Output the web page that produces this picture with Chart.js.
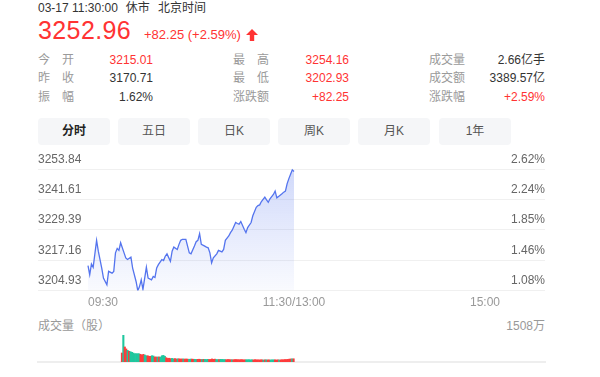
<!DOCTYPE html>
<html>
<head>
<meta charset="utf-8">
<script src="https://cdn.jsdelivr.net/npm/chart.js@4.4.1/dist/chart.umd.min.js"></script>
<style>
body{margin:0;width:600px;height:377px;overflow:hidden;background:#fff;position:relative;
  font-family:Arial,"Liberation Sans","Noto Sans CJK SC",sans-serif;color:#333}
.a{position:absolute;white-space:nowrap}
.lbl{position:absolute;width:36px;height:18px;line-height:18px;font-size:12px;color:#9a9a9a;
  text-align:justify;text-align-last:justify}
.val{position:absolute;height:18px;line-height:18px;font-size:12px;text-align:right;width:90px}
.red{color:#f33}
.tab{position:absolute;top:118px;width:72px;height:27px;line-height:27px;border-radius:4px;
  background:#f5f6f8;text-align:center;font-size:12px;color:#555}
</style>
</head>
<body>
<div class="a" style="left:38px;top:0;line-height:17px;font-size:12px;color:#333">03-17 11:30:00<span style="margin-left:8px">休市</span><span style="margin-left:8px">北京时间</span></div>
<div class="a red" style="left:38px;top:18px;height:25px;line-height:25px;font-size:25px;letter-spacing:0.4px">3252.96</div>
<div class="a red" style="left:144px;top:28px;height:13px;line-height:13px;font-size:13px">+82.25 (+2.59%)</div>
<svg class="a" style="left:246px;top:29px" width="12" height="12" viewBox="0 0 12 12"><path d="M6 0 L12 6 L8.2 6 L8.2 12 L3.8 12 L3.8 6 L0 6 Z" fill="#f33"/></svg>

<div class="lbl" style="left:38px;top:51px">今开</div>
<div class="val red" style="left:63px;top:51px">3215.01</div>
<div class="lbl" style="left:38px;top:69px">昨收</div>
<div class="val" style="left:63px;top:69px">3170.71</div>
<div class="lbl" style="left:38px;top:88px">振幅</div>
<div class="val" style="left:63px;top:88px">1.62%</div>

<div class="lbl" style="left:233px;top:51px">最高</div>
<div class="val red" style="left:259px;top:51px">3254.16</div>
<div class="lbl" style="left:233px;top:69px">最低</div>
<div class="val red" style="left:259px;top:69px">3202.93</div>
<div class="lbl" style="left:233px;top:88px">涨跌额</div>
<div class="val red" style="left:259px;top:88px">+82.25</div>

<div class="lbl" style="left:429px;top:51px">成交量</div>
<div class="val" style="left:455px;top:51px">2.66亿手</div>
<div class="lbl" style="left:429px;top:69px">成交额</div>
<div class="val" style="left:455px;top:69px">3389.57亿</div>
<div class="lbl" style="left:429px;top:88px">涨跌幅</div>
<div class="val red" style="left:455px;top:88px">+2.59%</div>

<div class="tab" style="left:38px;color:#222;font-weight:bold">分时</div>
<div class="tab" style="left:118px">五日</div>
<div class="tab" style="left:198px">日K</div>
<div class="tab" style="left:278px">周K</div>
<div class="tab" style="left:358px">月K</div>
<div class="tab" style="left:439px">1年</div>

<canvas id="line" class="a" style="left:0;top:140px" width="600" height="175"></canvas>

<div class="a" style="left:38px;top:318px;line-height:17px;font-size:12px;color:#999">成交量（股）</div>
<div id="volmax" class="a" style="right:55px;top:318px;line-height:17px;font-size:12px;color:#999"></div>
<canvas id="vol" class="a" style="left:0;top:330px" width="600" height="40"></canvas>

<script>
var prevClose = 3170.71;

// minutes after 09:30 and the index level at that minute
var minutes = [0,1,2,3,5,6,8,9,11,12,14,15,16,17,18,19,21,22,23,25,26,28,29,30,31,32,34,35,37,38,39,
  40,41,43,44,45,46,48,49,50,52,53,54,55,57,58,59,60,62,63,64,65,66,68,69,70,71,72,73,75,76,78,79,
  80,82,83,84,86,87,88,89,91,92,93,95,96,98,99,100,101,103,104,105,106,108,109,110,111,113,114,115,
  116,117,118,119,120];
var prices = [3215.01,3211.33,3215.65,3214.31,3225.19,3220.83,3214.02,3209.94,3207.25,3212.68,3211.98,3212.68,
  3220.14,3221.93,3221.12,3224.21,3220.14,3218.10,3217.45,3218.38,3214.02,3208.60,3204.90,3206.56,3209.29,3205.40,
  3214.31,3209.94,3209.29,3210.64,3210.23,
  3214.02,3215.41,3217.45,3217.04,3218.79,3219.73,3216.75,3220.83,3222.46,3221.52,3223.56,3225.19,3225.60,
  3225.60,3222.87,3220.14,3219.73,3222.87,3224.62,3225.19,3227.88,3223.56,3222.87,3222.46,3222.18,3220.14,
  3216.06,3218.10,3219.73,3221.12,3220.54,3221.52,
  3225.19,3226.94,3228.29,3229.27,3232.37,3231.96,3231.71,3232.77,3229.68,3228.29,3230.33,3232.37,3235.10,
  3238.48,3239.17,3239.46,3240.81,3242.56,3241.50,3240.52,3241.91,3243.66,3245.01,3242.31,3242.84,3243.94,
  3244.60,3245.01,3248.02,3250.06,3251.81,3253.60,3252.96];

var yTicks = [3204.93, 3217.16, 3229.39, 3241.61, 3253.84];
var timeTicks = [0, 120, 240];
var timeLabels = ['09:30', '11:30/13:00', '15:00'];

// volume per minute (万股) and direction (1 = up / red, -1 = down / green)
var volumes = [503,1508,840,730,650,600,575,540,500,465,465,465,460,430,390,430,390,350,350,320,
  320,350,335,280,280,280,280,280,350,370,320,240,200,
  210,190,200,180,190,170,180,175,
  170,165,175,160,170,160,150,165,160,155,
  150,145,150,155,145,140,150,145,140,150,
  140,145,170,150,160,140,135,140,150,145,
  140,135,130,140,135,130,125,130,135,140,
  130,125,135,130,125,120,130,125,130,120,
  125,120,130,125,120,115,125,120,115,120,
  125,115,120,115,120,125,120,115,120,115,
  120,125,130,135,140,145,160,170,175,180];
var volDir = [1,-1,1,1,-1,1,-1,-1,-1,-1,-1,-1,-1,1,1,1,-1,-1,1,1,1,-1,-1,1,1,-1,1,-1,-1,-1,-1,1,1,
  1,1,-1,-1,1,1,-1,1,1,1,
  -1,1,1,1,-1,-1,1,1,-1,-1,
  1,1,1,-1,1,-1,-1,-1,1,1,
  1,1,1,-1,-1,1,-1,-1,-1,-1,
  1,1,1,1,-1,1,1,1,1,1,
  1,1,1,1,-1,-1,-1,-1,-1,1,
  1,1,1,1,1,1,-1,1,-1,1,
  1,-1,-1,-1,1,1,1,-1,1,1,
  1,1,1,1,1,1,-1,1];

// x range chosen so 09:30 sits at 88px and 15:00 at 500px inside a 38..545 plot
var xMin = -29.13, xMax = 266.2;
var yMin = yTicks[0];
var yMax = yTicks[4] + 19 * (yTicks[4] - yTicks[0]) / 120;

function pct(p) { return (p / prevClose - 1) * 100; }

var linePts = minutes.map(function (m, i) { return { x: m, y: prices[i] }; });

new Chart(document.getElementById('line'), {
  type: 'line',
  data: {
    datasets: [{
      data: linePts,
      borderColor: '#5474ee',
      borderWidth: 1.3,
      pointRadius: 0,
      tension: 0,
      fill: 'start',
      backgroundColor: function (c) {
        var a = c.chart.chartArea;
        if (!a) return 'rgba(84,116,238,0.12)';
        var g = c.chart.ctx.createLinearGradient(0, a.top + 20, 0, a.bottom);
        g.addColorStop(0, 'rgba(84,116,238,0.27)');
        g.addColorStop(1, 'rgba(84,116,238,0.03)');
        return g;
      }
    }]
  },
  options: {
    responsive: false,
    animation: false,
    layout: { padding: { left: 38, right: 55, top: 10, bottom: 0 } },
    plugins: { legend: { display: false }, tooltip: { enabled: false } },
    scales: {
      x: {
        type: 'linear', min: xMin, max: xMax,
        grid: { display: false, drawTicks: false },
        border: { display: false },
        afterBuildTicks: function (s) { s.ticks = timeTicks.map(function (v) { return { value: v }; }); },
        ticks: {
          align: 'inner', autoSkip: false, maxRotation: 0, padding: 5,
          color: '#999', font: { size: 12 },
          callback: function (v) { return timeLabels[timeTicks.indexOf(v)]; }
        }
      },
      y: {
        position: 'left', min: yMin, max: yMax,
        grid: { color: '#f0f0f0', drawTicks: false },
        border: { display: false },
        afterBuildTicks: function (s) { s.ticks = yTicks.map(function (v) { return { value: v }; }); },
        ticks: {
          mirror: true, padding: 0, labelOffset: -10, color: '#666', font: { size: 12 },
          callback: function (v) { return v.toFixed(2); }
        }
      },
      y1: {
        position: 'right', min: pct(yMin), max: pct(yMax),
        grid: { display: false, drawTicks: false },
        border: { display: false },
        afterBuildTicks: function (s) { s.ticks = yTicks.map(function (v) { return { value: pct(v) }; }); },
        ticks: {
          mirror: true, padding: 0, labelOffset: -10, color: '#666', font: { size: 12 },
          callback: function (v) { return v.toFixed(2) + '%'; }
        }
      }
    }
  }
});

var volMax = Math.max.apply(null, volumes);
document.getElementById('volmax').textContent = volMax + '万';

new Chart(document.getElementById('vol'), {
  type: 'bar',
  data: {
    datasets: [{
      data: volumes.map(function (v, i) { return { x: i, y: v }; }),
      backgroundColor: volDir.map(function (d) { return d > 0 ? '#fd3b3b' : '#1fc79e'; }),
      barPercentage: 1,
      categoryPercentage: 1
    }]
  },
  options: {
    responsive: false,
    animation: false,
    layout: { padding: { left: 38, right: 55, top: 5, bottom: 8 } },
    plugins: { legend: { display: false }, tooltip: { enabled: false } },
    scales: {
      x: {
        type: 'linear', min: xMin, max: xMax,
        grid: { display: false, drawTicks: false },
        border: { display: true, color: '#eeeeee', width: 2 },
        ticks: { display: false }
      },
      y: { display: false, min: 0, max: volMax }
    }
  }
});
</script>
</body>
</html>
